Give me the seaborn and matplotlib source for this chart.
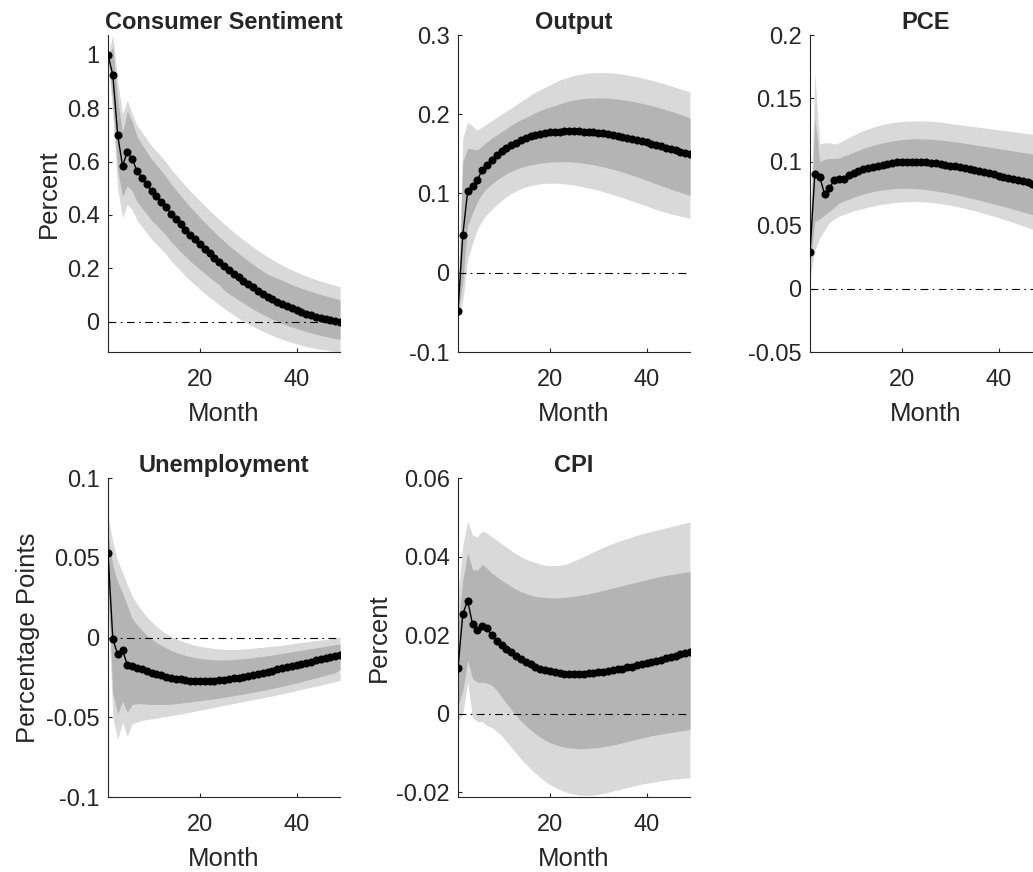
import numpy as np
import pandas as pd
import matplotlib
matplotlib.use("Agg")
import matplotlib.pyplot as plt
import seaborn as sns
from matplotlib.ticker import FuncFormatter

months = list(range(1, 50))

# ---------------- Consumer Sentiment ----------------
cs_irf = [1.000, 0.925, 0.700, 0.585, 0.635, 0.610, 0.565, 0.540, 0.515, 0.490,
          0.470, 0.450, 0.430, 0.405, 0.385, 0.365, 0.345, 0.325, 0.308, 0.290,
          0.273, 0.256, 0.240, 0.224, 0.209, 0.194, 0.180, 0.166, 0.153, 0.140,
          0.128, 0.116, 0.105, 0.094, 0.084, 0.075, 0.066, 0.058, 0.050, 0.043,
          0.036, 0.030, 0.024, 0.019, 0.014, 0.009, 0.005, 0.001, -0.003]
cs_hi90 = [1.000, 1.075, 0.900, 0.780, 0.830, 0.780, 0.735, 0.710, 0.685, 0.660,
           0.640, 0.620, 0.598, 0.573, 0.552, 0.531, 0.510, 0.490, 0.472, 0.453,
           0.435, 0.417, 0.400, 0.383, 0.367, 0.351, 0.336, 0.321, 0.307, 0.293,
           0.280, 0.267, 0.255, 0.243, 0.232, 0.222, 0.212, 0.203, 0.194, 0.186,
           0.178, 0.171, 0.164, 0.158, 0.152, 0.146, 0.141, 0.136, 0.131]
cs_hi68 = [1.000, 1.030, 0.830, 0.710, 0.790, 0.750, 0.695, 0.665, 0.637, 0.610,
           0.588, 0.566, 0.544, 0.517, 0.495, 0.473, 0.451, 0.430, 0.411, 0.391,
           0.372, 0.354, 0.336, 0.319, 0.302, 0.286, 0.271, 0.256, 0.242, 0.228,
           0.215, 0.202, 0.190, 0.178, 0.170, 0.163, 0.155, 0.147, 0.139, 0.132,
           0.125, 0.119, 0.113, 0.107, 0.102, 0.097, 0.092, 0.087, 0.082]
cs_lo68 = [1.000, 0.820, 0.570, 0.470, 0.510, 0.490, 0.450, 0.427, 0.403, 0.380,
           0.362, 0.343, 0.324, 0.300, 0.282, 0.263, 0.245, 0.227, 0.212, 0.196,
           0.181, 0.166, 0.152, 0.138, 0.118, 0.105, 0.093, 0.081, 0.070, 0.058,
           0.047, 0.037, 0.027, 0.018, 0.009, 0.001, -0.007, -0.014, -0.020, -0.026,
           -0.032, -0.037, -0.042, -0.047, -0.052, -0.056, -0.060, -0.064, -0.067]
cs_lo90 = [1.000, 0.770, 0.500, 0.390, 0.440, 0.420, 0.380, 0.357, 0.333, 0.310,
           0.291, 0.272, 0.253, 0.229, 0.210, 0.191, 0.172, 0.154, 0.138, 0.122,
           0.106, 0.091, 0.077, 0.063, 0.050, 0.037, 0.025, 0.013, 0.002, -0.008,
           -0.018, -0.027, -0.036, -0.044, -0.052, -0.059, -0.066, -0.072, -0.078, -0.083,
           -0.088, -0.093, -0.097, -0.101, -0.104, -0.107, -0.110, -0.112, -0.114]

# ---------------- Output ----------------
out_irf = [-0.048, 0.048, 0.103, 0.110, 0.117, 0.1295, 0.136, 0.142, 0.148, 0.153,
           0.157, 0.161, 0.164, 0.167, 0.170, 0.172, 0.174, 0.1755, 0.1765, 0.1772,
           0.1778, 0.1782, 0.1785, 0.1786, 0.1786, 0.1785, 0.1782, 0.1778, 0.1773, 0.1767,
           0.1759, 0.1750, 0.1740, 0.1729, 0.1717, 0.1704, 0.1690, 0.1676, 0.1661, 0.1646,
           0.1630, 0.1614, 0.1597, 0.1580, 0.1563, 0.1546, 0.1529, 0.1512, 0.1495]
out_hi90 = [-0.040, 0.170, 0.190, 0.185, 0.180, 0.184, 0.188, 0.192, 0.196, 0.200,
            0.204, 0.208, 0.212, 0.216, 0.220, 0.224, 0.228, 0.231, 0.234, 0.237,
            0.240, 0.243, 0.245, 0.247, 0.249, 0.250, 0.251, 0.252, 0.2525, 0.2528,
            0.2528, 0.2525, 0.2520, 0.2513, 0.2505, 0.2495, 0.2484, 0.2472, 0.2459, 0.2445,
            0.2430, 0.2414, 0.2397, 0.2379, 0.2360, 0.2340, 0.2320, 0.2300, 0.2280]
out_hi68 = [-0.044, 0.140, 0.157, 0.156, 0.155, 0.160, 0.165, 0.170, 0.174, 0.178,
            0.182, 0.186, 0.190, 0.193, 0.196, 0.199, 0.202, 0.205, 0.207, 0.209,
            0.211, 0.213, 0.215, 0.217, 0.218, 0.219, 0.2198, 0.2203, 0.2206, 0.2207,
            0.2206, 0.2203, 0.2198, 0.2191, 0.2183, 0.2174, 0.2163, 0.2151, 0.2138, 0.2124,
            0.2109, 0.2093, 0.2076, 0.2058, 0.2039, 0.2019, 0.1998, 0.1977, 0.1955]
out_lo68 = [-0.052, -0.010, 0.060, 0.075, 0.090, 0.100, 0.107, 0.112, 0.117, 0.121,
            0.125, 0.128, 0.1305, 0.1327, 0.1345, 0.1360, 0.1372, 0.1382, 0.1390, 0.1396,
            0.1400, 0.1402, 0.1402, 0.1400, 0.1396, 0.1390, 0.1382, 0.1373, 0.1362, 0.1350,
            0.1337, 0.1322, 0.1306, 0.1289, 0.1271, 0.1252, 0.1232, 0.1211, 0.1190, 0.1168,
            0.1145, 0.1122, 0.1100, 0.1078, 0.1056, 0.1035, 0.1015, 0.0995, 0.0975]
out_lo90 = [-0.058, -0.035, 0.017, 0.037, 0.055, 0.066, 0.074, 0.080, 0.086, 0.091,
            0.096, 0.100, 0.103, 0.106, 0.108, 0.110, 0.1113, 0.1122, 0.1127, 0.1130,
            0.1130, 0.1127, 0.1122, 0.1115, 0.1106, 0.1095, 0.1083, 0.1070, 0.1055, 0.1040,
            0.1023, 0.1005, 0.0987, 0.0968, 0.0948, 0.0928, 0.0907, 0.0886, 0.0864, 0.0842,
            0.0820, 0.0800, 0.0780, 0.0762, 0.0745, 0.0730, 0.0715, 0.0700, 0.0686]

# ---------------- PCE ----------------
pce_irf = [0.0285, 0.0900, 0.0880, 0.0750, 0.0790, 0.0855, 0.0863, 0.0866, 0.0894, 0.0910,
           0.0925, 0.0940, 0.0950, 0.0960, 0.0970, 0.0978, 0.0985, 0.0990, 0.0995, 0.0998,
           0.1000, 0.1000, 0.1000, 0.0998, 0.0995, 0.0991, 0.0987, 0.0982, 0.0976, 0.0970,
           0.0963, 0.0956, 0.0949, 0.0941, 0.0933, 0.0925, 0.0917, 0.0909, 0.0900, 0.0891,
           0.0882, 0.0873, 0.0864, 0.0855, 0.0846, 0.0837, 0.0828, 0.0819, 0.0810]
pce_hi90 = [0.045, 0.170, 0.114, 0.115, 0.115, 0.114, 0.115, 0.117, 0.119, 0.121,
            0.123, 0.1245, 0.1260, 0.1272, 0.1284, 0.1294, 0.1302, 0.1309, 0.1314, 0.1318,
            0.1320, 0.1322, 0.1323, 0.1323, 0.1322, 0.1320, 0.1317, 0.1313, 0.1308, 0.1302,
            0.1297, 0.1292, 0.1287, 0.1282, 0.1277, 0.1272, 0.1267, 0.1262, 0.1257, 0.1252,
            0.1247, 0.1242, 0.1237, 0.1232, 0.1227, 0.1222, 0.1217, 0.1212, 0.1207]
pce_hi68 = [0.040, 0.135, 0.100, 0.102, 0.1026, 0.1026, 0.1030, 0.1045, 0.1060, 0.1075,
            0.1090, 0.1105, 0.1118, 0.1130, 0.1140, 0.1149, 0.1157, 0.1164, 0.1170, 0.1175,
            0.1178, 0.1180, 0.1181, 0.1181, 0.1180, 0.1178, 0.1175, 0.1171, 0.1167, 0.1162,
            0.1157, 0.1152, 0.1146, 0.1140, 0.1134, 0.1128, 0.1122, 0.1116, 0.1110, 0.1104,
            0.1098, 0.1092, 0.1086, 0.1080, 0.1074, 0.1068, 0.1062, 0.1056, 0.1050]
pce_lo68 = [0.018, 0.053, 0.055, 0.058, 0.061, 0.064, 0.0675, 0.0690, 0.0705, 0.0720,
            0.0733, 0.0745, 0.0755, 0.0764, 0.0772, 0.0778, 0.0783, 0.0787, 0.0790, 0.0791,
            0.0791, 0.0790, 0.0788, 0.0785, 0.0781, 0.0776, 0.0770, 0.0764, 0.0757, 0.0750,
            0.0742, 0.0734, 0.0725, 0.0716, 0.0707, 0.0698, 0.0688, 0.0678, 0.0668, 0.0658,
            0.0648, 0.0638, 0.0627, 0.0616, 0.0605, 0.0594, 0.0583, 0.0572, 0.0561]
pce_lo90 = [0.008, 0.030, 0.040, 0.046, 0.052, 0.055, 0.057, 0.0585, 0.0600, 0.0612,
            0.0623, 0.0633, 0.0642, 0.0650, 0.0658, 0.0665, 0.0671, 0.0676, 0.0680, 0.0683,
            0.0685, 0.0686, 0.0686, 0.0685, 0.0683, 0.0680, 0.0676, 0.0671, 0.0665, 0.0658,
            0.0650, 0.0642, 0.0633, 0.0624, 0.0614, 0.0604, 0.0593, 0.0582, 0.0571, 0.0559,
            0.0547, 0.0535, 0.0522, 0.0509, 0.0496, 0.0483, 0.0470, 0.0457, 0.0444]

# ---------------- Unemployment ----------------
un_irf = [0.0528, -0.0010, -0.0105, -0.0080, -0.0170, -0.0176, -0.0190, -0.0200, -0.0210, -0.0220,
          -0.0230, -0.0238, -0.0245, -0.0252, -0.0258, -0.0263, -0.0267, -0.0270, -0.0272, -0.0273,
          -0.0273, -0.0272, -0.0270, -0.0267, -0.0264, -0.0260, -0.0256, -0.0252, -0.0247, -0.0242,
          -0.0235, -0.0228, -0.0221, -0.0214, -0.0207, -0.0200, -0.0193, -0.0186, -0.0179, -0.0172,
          -0.0165, -0.0158, -0.0151, -0.0144, -0.0137, -0.0130, -0.0123, -0.0116, -0.0109]
un_hi90 = [0.076, 0.060, 0.048, 0.041, 0.033, 0.026, 0.021, 0.017, 0.013, 0.010,
           0.007, 0.0045, 0.0025, 0.0008, -0.0007, -0.0020, -0.0030, -0.0040, -0.0048, -0.0055,
           -0.0060, -0.0065, -0.0069, -0.0072, -0.0074, -0.0075, -0.0075, -0.0074, -0.0072, -0.0070,
           -0.0067, -0.0064, -0.0061, -0.0058, -0.0055, -0.0052, -0.0048, -0.0044, -0.0040, -0.0036,
           -0.0032, -0.0028, -0.0024, -0.0020, -0.0016, -0.0012, -0.0008, -0.0004, 0.0000]
un_hi68 = [0.065, 0.045, 0.035, 0.028, 0.020, 0.012, 0.008, 0.0045, 0.0015, -0.0010,
           -0.0030, -0.0050, -0.0065, -0.0080, -0.0092, -0.0103, -0.0112, -0.0120, -0.0126, -0.0131,
           -0.0135, -0.0138, -0.0140, -0.0141, -0.0141, -0.0140, -0.0138, -0.0136, -0.0133, -0.0130,
           -0.0126, -0.0122, -0.0118, -0.0114, -0.0110, -0.0105, -0.0100, -0.0095, -0.0090, -0.0085,
           -0.0080, -0.0075, -0.0070, -0.0065, -0.0060, -0.0055, -0.0050, -0.0045, -0.0040]
un_lo68 = [0.035, -0.035, -0.048, -0.040, -0.047, -0.042, -0.0415, -0.0415, -0.0418, -0.0420,
           -0.0420, -0.0420, -0.0420, -0.0418, -0.0415, -0.0412, -0.0408, -0.0404, -0.0400, -0.0396,
           -0.0392, -0.0388, -0.0384, -0.0380, -0.0375, -0.0370, -0.0365, -0.0360, -0.0355, -0.0350,
           -0.0344, -0.0338, -0.0332, -0.0326, -0.0320, -0.0313, -0.0306, -0.0299, -0.0292, -0.0285,
           -0.0277, -0.0269, -0.0261, -0.0253, -0.0245, -0.0237, -0.0229, -0.0221, -0.0200]
un_lo90 = [0.020, -0.050, -0.064, -0.053, -0.062, -0.054, -0.0530, -0.0520, -0.0515, -0.0510,
           -0.0505, -0.0500, -0.0495, -0.0490, -0.0485, -0.0480, -0.0474, -0.0468, -0.0462, -0.0456,
           -0.0450, -0.0444, -0.0438, -0.0432, -0.0426, -0.0420, -0.0414, -0.0408, -0.0402, -0.0396,
           -0.0390, -0.0384, -0.0378, -0.0372, -0.0366, -0.0360, -0.0354, -0.0347, -0.0340, -0.0333,
           -0.0326, -0.0319, -0.0312, -0.0305, -0.0298, -0.0291, -0.0284, -0.0277, -0.0270]

# ---------------- CPI ----------------
cpi_irf = [0.0117, 0.0254, 0.0288, 0.0228, 0.0213, 0.0223, 0.0217, 0.0200, 0.0185, 0.0175,
           0.0165, 0.0156, 0.0147, 0.0139, 0.0132, 0.0126, 0.0120, 0.0115, 0.0111, 0.0108,
           0.0105, 0.0103, 0.0102, 0.0101, 0.0101, 0.0101, 0.0102, 0.0103, 0.0104, 0.0105,
           0.0107, 0.0109, 0.0111, 0.0113, 0.0115, 0.0118, 0.0120, 0.0123, 0.0126, 0.0129,
           0.0132, 0.0135, 0.0138, 0.0141, 0.0144, 0.0148, 0.0151, 0.0155, 0.0158]
cpi_hi90 = [0.0300, 0.0430, 0.0490, 0.0455, 0.0450, 0.0465, 0.0460, 0.0450, 0.0442, 0.0433,
            0.0424, 0.0415, 0.0407, 0.0400, 0.0394, 0.0389, 0.0385, 0.0381, 0.0378, 0.0377,
            0.0377, 0.0378, 0.0380, 0.0384, 0.0389, 0.0394, 0.0400, 0.0406, 0.0412, 0.0418,
            0.0423, 0.0428, 0.0433, 0.0438, 0.0442, 0.0446, 0.0450, 0.0454, 0.0458, 0.0461,
            0.0464, 0.0467, 0.0470, 0.0473, 0.0476, 0.0479, 0.0482, 0.0485, 0.0488]
cpi_hi68 = [0.0220, 0.0340, 0.0410, 0.0367, 0.0365, 0.0380, 0.0370, 0.0358, 0.0349, 0.0340,
            0.0332, 0.0324, 0.0317, 0.0311, 0.0306, 0.0302, 0.0299, 0.0297, 0.0296, 0.0295,
            0.0295, 0.0295, 0.0296, 0.0297, 0.0299, 0.0301, 0.0303, 0.0305, 0.0308, 0.0311,
            0.0314, 0.0317, 0.0320, 0.0323, 0.0326, 0.0329, 0.0332, 0.0335, 0.0338, 0.0341,
            0.0344, 0.0347, 0.0350, 0.0352, 0.0354, 0.0356, 0.0358, 0.0360, 0.0362]
cpi_lo68 = [0.0020, 0.0060, 0.0136, 0.0090, 0.0080, 0.0080, 0.0078, 0.0072, 0.0060, 0.0043,
            0.0026, 0.0011, -0.0004, -0.0018, -0.0030, -0.0041, -0.0051, -0.0060, -0.0067, -0.0073,
            -0.0078, -0.0082, -0.0085, -0.0087, -0.0088, -0.0089, -0.0089, -0.0088, -0.0087, -0.0086,
            -0.0084, -0.0082, -0.0080, -0.0077, -0.0074, -0.0071, -0.0068, -0.0065, -0.0062, -0.0059,
            -0.0056, -0.0054, -0.0052, -0.0050, -0.0048, -0.0046, -0.0044, -0.0042, -0.0040]
cpi_lo90 = [-0.0020, 0.0000, 0.0080, -0.0010, -0.0020, -0.0020, -0.0030, -0.0035, -0.0045, -0.0055,
            -0.0070, -0.0085, -0.0100, -0.0115, -0.0128, -0.0140, -0.0152, -0.0162, -0.0172, -0.0180,
            -0.0187, -0.0193, -0.0198, -0.0202, -0.0205, -0.0207, -0.0208, -0.0208, -0.0207, -0.0205,
            -0.0203, -0.0200, -0.0197, -0.0194, -0.0191, -0.0188, -0.0185, -0.0182, -0.0179, -0.0177,
            -0.0175, -0.0173, -0.0171, -0.0169, -0.0167, -0.0166, -0.0165, -0.0164, -0.0163]

titles = ["Consumer Sentiment", "Output", "PCE", "Unemployment", "CPI"]
ylabels = ["Percent", "", "", "Percentage Points", "Percent"]
ylims = [(-0.114, 1.075), (-0.1, 0.3), (-0.05, 0.2), (-0.1, 0.1), (-0.0212, 0.06)]
yticks = [[0, 0.2, 0.4, 0.6, 0.8, 1.0],
          [-0.1, 0, 0.1, 0.2, 0.3],
          [-0.05, 0, 0.05, 0.1, 0.15, 0.2],
          [-0.1, -0.05, 0, 0.05, 0.1],
          [-0.02, 0, 0.02, 0.04, 0.06]]
xticks = [20, 40]

series = [
    (cs_irf, cs_lo90, cs_lo68, cs_hi68, cs_hi90),
    (out_irf, out_lo90, out_lo68, out_hi68, out_hi90),
    (pce_irf, pce_lo90, pce_lo68, pce_hi68, pce_hi90),
    (un_irf, un_lo90, un_lo68, un_hi68, un_hi90),
    (cpi_irf, cpi_lo90, cpi_lo68, cpi_hi68, cpi_hi90),
]

sns.set_style("ticks")
plt.rcParams['font.family'] = ['Liberation Sans', 'DejaVu Sans']
plt.rcParams['axes.unicode_minus'] = False

W, H = 1033, 872
fig = plt.figure(figsize=(W / 100, H / 100), dpi=100)

# axes boxes in pixels: (left, top, right, bottom)
boxes = [(108, 35, 340, 352), (458, 35, 690, 352), (810, 35, 1042, 352),
         (108, 478, 340, 797), (458, 478, 690, 797)]

LIGHT = "#d9d9d9"
DARK = "#b4b4b4"
AXC = "#262626"

def fmt(v, pos):
    return "%g" % round(v, 6)

for i, (l, t, r, b) in enumerate(boxes):
    ax = fig.add_axes([l / W, 1 - b / H, (r - l) / W, (b - t) / H])
    irf, lo90, lo68, hi68, hi90 = series[i]
    df = pd.DataFrame({"Month": months, "irf": irf, "lo90": lo90, "lo68": lo68,
                       "hi68": hi68, "hi90": hi90})
    ax.fill_between(df["Month"], df["lo90"], df["hi90"], color=LIGHT, lw=0, zorder=1)
    ax.fill_between(df["Month"], df["lo68"], df["hi68"], color=DARK, lw=0, zorder=2)
    ax.axhline(0, color="black", lw=0.8, ls=(0, (7, 4, 1.5, 4)), zorder=3)
    sns.lineplot(data=df, x="Month", y="irf", ax=ax, color="black", lw=1.0,
                 marker="o", markersize=5.8, markeredgewidth=0, zorder=4)
    ax.set_xlim(1, 49)
    ax.set_ylim(*ylims[i])
    ax.set_xticks(xticks)
    ax.set_yticks(yticks[i])
    ax.yaxis.set_major_formatter(FuncFormatter(fmt))
    ax.set_xlabel("Month", fontsize=18.5, color=AXC, labelpad=8)
    ax.set_ylabel(ylabels[i], fontsize=18.5, color=AXC, labelpad=4)
    ax.set_title(titles[i], fontsize=17, fontweight="bold", pad=4)
    for side in ["top", "right"]:
        ax.spines[side].set_visible(False)
    for side in ["left", "bottom"]:
        ax.spines[side].set_color(AXC)
        ax.spines[side].set_linewidth(0.8)
    ax.tick_params(direction="in", length=3, width=0.8, colors=AXC, labelsize=17)
    ax.tick_params(axis="x", pad=12)
    ax.tick_params(axis="y", pad=6)

fig.savefig("out.png", dpi=100)
